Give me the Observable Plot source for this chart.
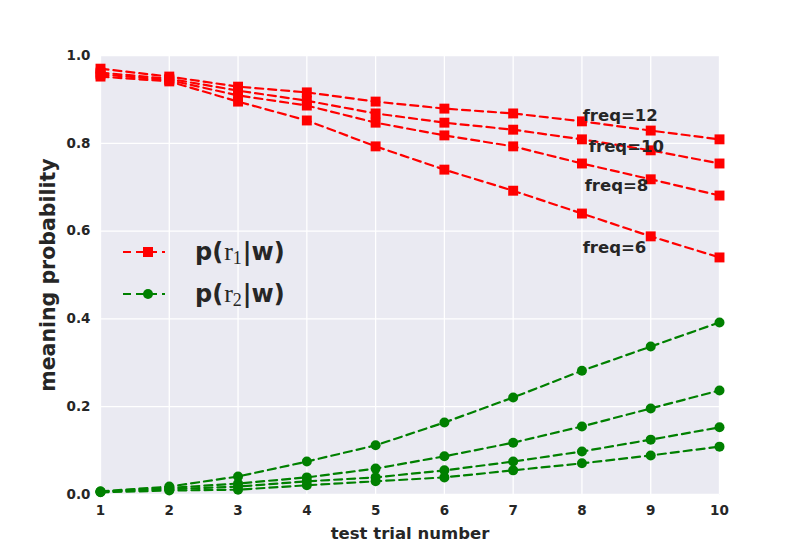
<!DOCTYPE html>
<html>
<head>
<meta charset="utf-8">
<script src="https://cdn.jsdelivr.net/npm/d3@7"></script>
<script src="https://cdn.jsdelivr.net/npm/@observablehq/plot@0.6"></script>
<style>
  html, body { margin: 0; padding: 0; background: #fff; }
  #chart { width: 800px; height: 550px; }
  svg { font-family: "DejaVu Sans", sans-serif; }
</style>
</head>
<body>
<div id="chart"></div>
<script>
// ---- data ----
const trials = [1, 2, 3, 4, 5, 6, 7, 8, 9, 10];
const freqs = [12, 10, 8, 6];

// p(r1|w) per frequency
const r1_freq12 = [0.970, 0.952, 0.929, 0.916, 0.895, 0.879, 0.868, 0.850, 0.829, 0.809];
const r1_freq10 = [0.961, 0.947, 0.920, 0.897, 0.868, 0.847, 0.831, 0.809, 0.784, 0.754];
const r1_freq8  = [0.957, 0.944, 0.909, 0.886, 0.847, 0.818, 0.793, 0.754, 0.718, 0.681];
const r1_freq6  = [0.952, 0.941, 0.895, 0.852, 0.793, 0.740, 0.692, 0.640, 0.588, 0.540];

// p(r2|w) per frequency
const r2_freq6  = [0.007, 0.018, 0.041, 0.075, 0.112, 0.164, 0.221, 0.282, 0.337, 0.392];
const r2_freq8  = [0.007, 0.015, 0.025, 0.039, 0.059, 0.087, 0.118, 0.155, 0.196, 0.237];
const r2_freq10 = [0.006, 0.012, 0.018, 0.030, 0.039, 0.055, 0.075, 0.098, 0.125, 0.153];
const r2_freq12 = [0.005, 0.009, 0.011, 0.021, 0.030, 0.039, 0.055, 0.071, 0.089, 0.109];

const yTicks = [0, 0.2, 0.4, 0.6, 0.8, 1.0];

// annotation labels (anchored in data space)
const labelText = ["freq=12", "freq=10", "freq=8", "freq=6"];
const labelX = [8.01, 8.10, 8.04, 8.01];
const labelY = [0.851, 0.781, 0.691, 0.550];

// ---- build tables ----
const r1Series = {12: r1_freq12, 10: r1_freq10, 8: r1_freq8, 6: r1_freq6};
const r2Series = {12: r2_freq12, 10: r2_freq10, 8: r2_freq8, 6: r2_freq6};
const r1 = freqs.flatMap(f => trials.map((t, i) => ({trial: t, p: r1Series[f][i], freq: f})));
const r2 = freqs.flatMap(f => trials.map((t, i) => ({trial: t, p: r2Series[f][i], freq: f})));
const labels = labelText.map((t, i) => ({text: t, x: labelX[i], y: labelY[i]}));

const RED = "#ff0000", GREEN = "#008000", INK = "#262626";
const DASH = "8,5";
const LW = 2.2;

// legend drawn as a custom mark inside the frame
function legendMark(index, scales, values, dims) {
  const g = d3.create("svg:g");
  const rows = [
    {color: RED, sym: "square", sub: "1"},
    {color: GREEN, sym: "circle", sub: "2"}
  ];
  const x0 = dims.marginLeft + 23;
  rows.forEach((r, i) => {
    const cy = dims.marginTop + 197 + i * 42;
    g.append("line").attr("x1", x0).attr("x2", x0 + 42).attr("y1", cy).attr("y2", cy)
      .attr("stroke", r.color).attr("stroke-width", LW).attr("stroke-dasharray", DASH);
    if (r.sym === "square") {
      g.append("rect").attr("x", x0 + 25 - 5).attr("y", cy - 5).attr("width", 10).attr("height", 10).attr("fill", r.color);
    } else {
      g.append("circle").attr("cx", x0 + 25).attr("cy", cy).attr("r", 5).attr("fill", r.color);
    }
    const t = g.append("text").attr("x", x0 + 72).attr("y", cy + 8)
      .attr("text-anchor", "start")
      .attr("fill", INK).attr("font-size", 24).attr("font-weight", "bold")
      .attr("font-family", "DejaVu Sans, sans-serif");
    t.append("tspan").text("p(");
    t.append("tspan").attr("font-family", "Liberation Serif, serif").attr("font-weight", "normal").attr("font-size", 26).attr("dx", 1).text("r");
    t.append("tspan").attr("font-family", "Liberation Serif, serif").attr("font-weight", "normal").attr("font-size", 18).attr("dy", 4).text(r.sub);
    t.append("tspan").attr("dy", -4).attr("dx", 1).text("|w)");
  });
  return g.node();
}

const chart = Plot.plot({
  width: 800,
  height: 550,
  marginLeft: 100,
  marginRight: 81,
  marginTop: 55,
  marginBottom: 56,
  style: {fontFamily: "DejaVu Sans, sans-serif", background: "#fff"},
  x: {domain: [1, 10]},
  y: {domain: [0, 1]},
  marks: [
    Plot.frame({fill: "#EAEAF2", stroke: null}),
    Plot.gridX(trials, {stroke: "#fff", strokeOpacity: 1, strokeWidth: 1.3}),
    Plot.gridY(yTicks, {stroke: "#fff", strokeOpacity: 1, strokeWidth: 1.3}),
    Plot.axisX(trials, {tickSize: 0, tickPadding: 11, fontSize: 13.5, fontWeight: "bold", fill: INK, label: null, tickFormat: d => String(d)}),
    Plot.axisY(yTicks, {tickSize: 0, tickPadding: 10, fontSize: 13.5, fontWeight: "bold", fill: INK, label: null, tickFormat: d3.format(".1f")}),
    Plot.line(r1, {x: "trial", y: "p", z: "freq", stroke: RED, strokeWidth: LW, strokeDasharray: DASH}),
    Plot.dot(r1, {x: "trial", y: "p", symbol: "square", r: 5.6, fill: RED, stroke: null}),
    Plot.line(r2, {x: "trial", y: "p", z: "freq", stroke: GREEN, strokeWidth: LW, strokeDasharray: DASH}),
    Plot.dot(r2, {x: "trial", y: "p", symbol: "circle", r: 5, fill: GREEN, stroke: null}),
    Plot.text(labels, {x: "x", y: "y", text: "text", textAnchor: "start", lineAnchor: "bottom", fontSize: 16.5, fontWeight: "bold", fill: INK}),
    Plot.text(["test trial number"], {frameAnchor: "bottom", dy: 44, text: d => d, fontSize: 16.5, fontWeight: "bold", fill: INK}),
    Plot.text(["meaning probability"], {frameAnchor: "left", dx: -52, rotate: -90, textAnchor: "middle", text: d => d, fontSize: 20.5, fontWeight: "bold", fill: INK}),
    legendMark
  ]
});
document.getElementById("chart").appendChild(chart);
</script>
</body>
</html>
